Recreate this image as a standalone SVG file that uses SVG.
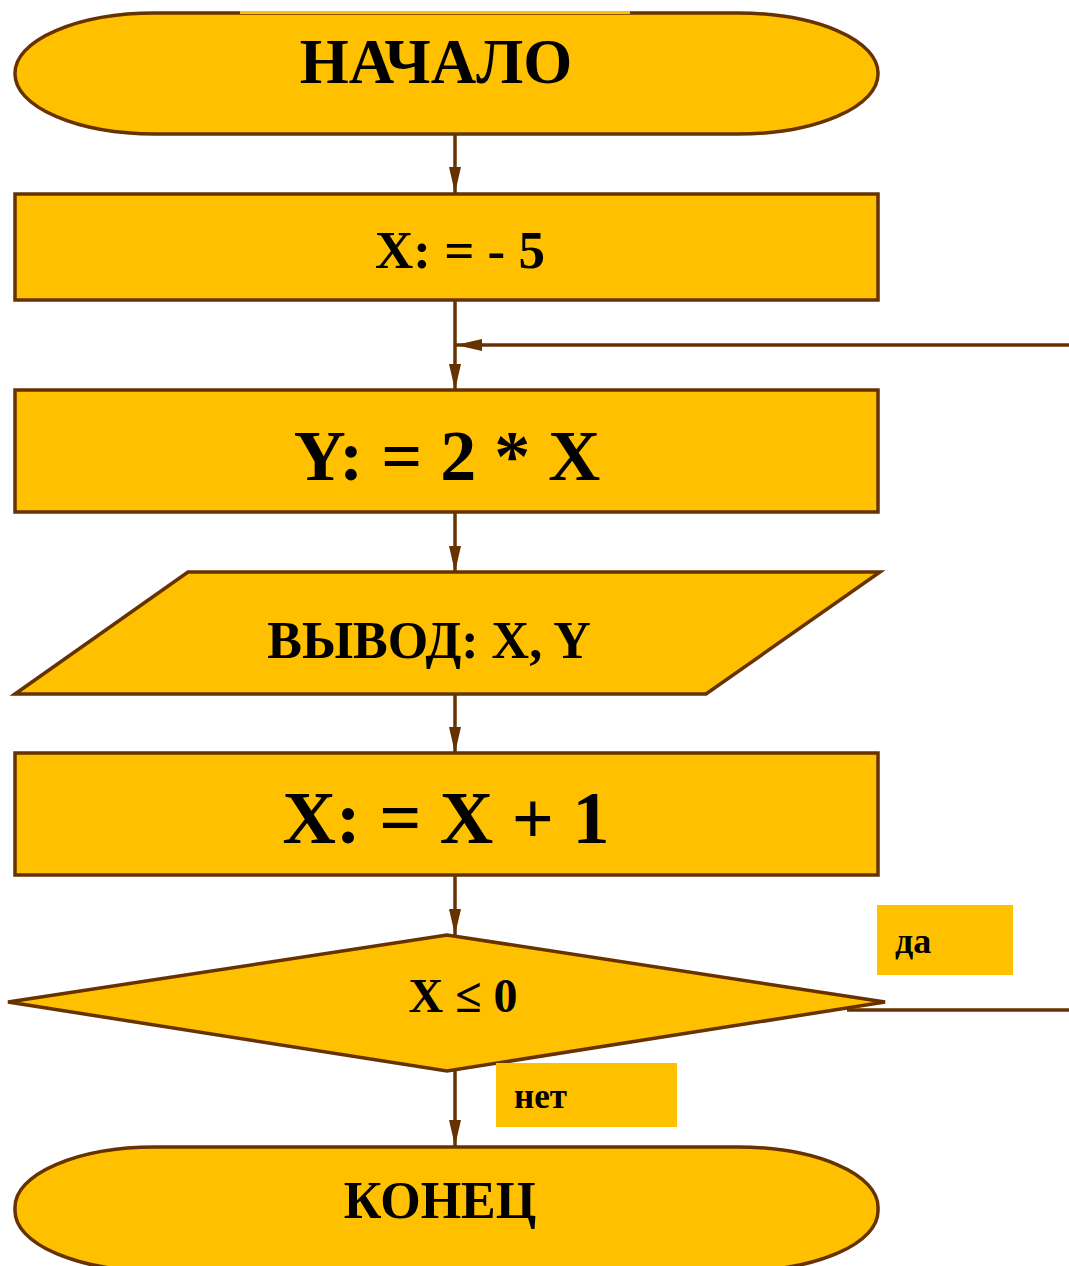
<svg xmlns="http://www.w3.org/2000/svg" width="1069" height="1266" viewBox="0 0 1069 1266">
<style>
.shape{fill:#FFC000;stroke:#663300;stroke-width:3.5}
.lbl{fill:#FFC000}
.t{font-family:"Liberation Serif","Times New Roman",serif;font-weight:bold;fill:#000;text-anchor:middle}
.s{font-family:"Liberation Serif","Times New Roman",serif;font-weight:bold;fill:#000}
.c{stroke:#663300;stroke-width:3.5;fill:none}
</style>
<defs>
<marker id="ah" viewBox="0 0 26 12" refX="26" refY="6" markerWidth="26" markerHeight="12" markerUnits="userSpaceOnUse" orient="auto">
<path d="M0,0 L26,6 L0,12 Z" fill="#663300"/>
</marker>
</defs>
<g id="connectors">
<line class="c" x1="455" y1="134" x2="455" y2="193" marker-end="url(#ah)"/>
<line class="c" x1="455" y1="300" x2="455" y2="390" marker-end="url(#ah)"/>
<line class="c" x1="1069" y1="345" x2="456" y2="345" marker-end="url(#ah)"/>
<line class="c" x1="455" y1="512" x2="455" y2="572" marker-end="url(#ah)"/>
<line class="c" x1="455" y1="694" x2="455" y2="753" marker-end="url(#ah)"/>
<line class="c" x1="455" y1="875" x2="455" y2="935" marker-end="url(#ah)"/>
<line class="c" x1="455" y1="1071" x2="455" y2="1146" marker-end="url(#ah)"/>
<line class="c" x1="847" y1="1010" x2="1069" y2="1010"/>
</g>
<g id="start">
<rect class="shape" x="15" y="13" width="863" height="121" rx="140" ry="60"/>
<rect x="240" y="11" width="390" height="3" fill="#FFC000"/>
<text class="t" x="436" y="83" font-size="63">НАЧАЛО</text>
</g>
<g id="init">
<rect class="shape" x="15" y="194" width="863" height="106"/>
<text class="t" x="460" y="268" font-size="53">X: = - 5</text>
</g>
<g id="calcY">
<rect class="shape" x="15" y="390" width="863" height="122"/>
<text class="t" x="447" y="480" font-size="72">Y: = 2 * X</text>
</g>
<g id="output">
<polygon class="shape" points="15,694 188,572 880,572 706,694"/>
<text class="t" x="429" y="658" font-size="52">ВЫВОД: X, Y</text>
</g>
<g id="incX">
<rect class="shape" x="15" y="753" width="863" height="122"/>
<text class="t" x="446" y="843" font-size="74">X: = X + 1</text>
</g>
<g id="decision">
<polygon class="shape" points="8,1002 447,935 885,1002 447,1071"/>
<text class="t" x="463" y="1012" font-size="48">X ≤ 0</text>
</g>
<g id="label-yes">
<rect class="lbl" x="877" y="905" width="136" height="70"/>
<text class="s" x="895" y="953" font-size="36">да</text>
</g>
<g id="label-no">
<rect class="lbl" x="496" y="1063" width="181" height="64"/>
<text class="s" x="514" y="1108" font-size="35">нет</text>
</g>
<g id="end">
<rect class="shape" x="15" y="1147" width="863" height="124" rx="140" ry="60"/>
<text class="t" x="440" y="1218" font-size="52">КОНЕЦ</text>
</g>
</svg>
